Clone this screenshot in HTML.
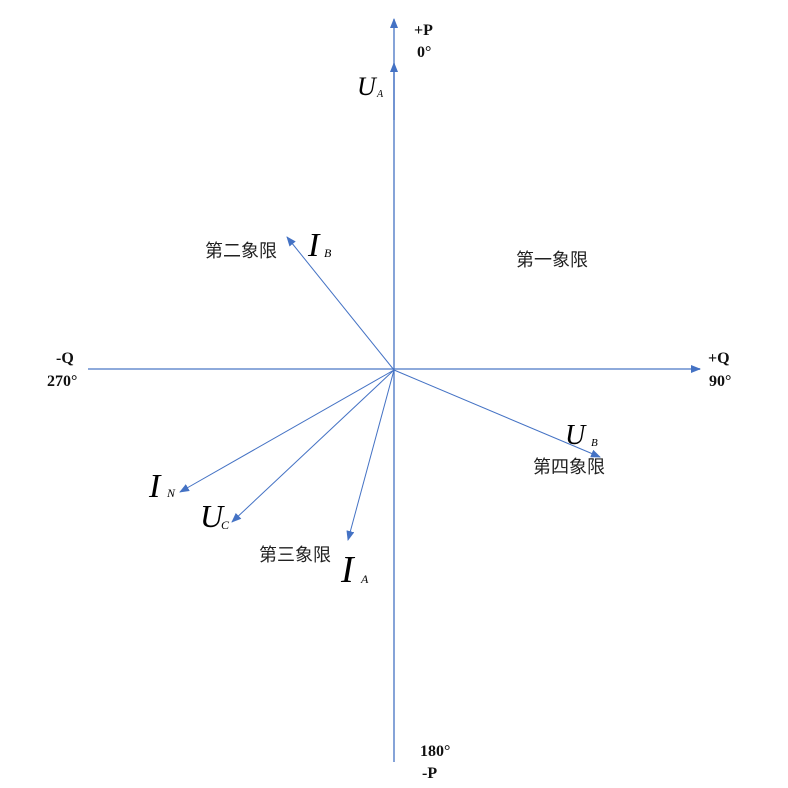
<!DOCTYPE html>
<html><head><meta charset="utf-8"><style>
body{margin:0;background:#fff}
svg{display:block}
.ax{font-family:"Liberation Serif",serif;font-weight:bold;font-size:16px;fill:#111}
.cn{font-family:"Liberation Sans","Noto Sans CJK SC",sans-serif;font-size:18px;fill:#222}
.v{font-family:"Liberation Serif",serif;font-style:italic;fill:#000}
</style></head><body>
<svg width="788" height="788" viewBox="0 0 788 788" xmlns="http://www.w3.org/2000/svg">
<defs>
<marker id="a" markerWidth="10" markerHeight="8" refX="9" refY="4" orient="auto" markerUnits="userSpaceOnUse">
<path d="M0,0 L10,4 L0,8 z" fill="#4472c4"/></marker>
</defs>
<g stroke="#4472c4" fill="none">
<line x1="88" y1="369" x2="700" y2="369" stroke="#8eaadb" stroke-width="2" marker-end="url(#a)"/>
<line x1="394" y1="762" x2="394" y2="19" stroke-width="1.3" marker-end="url(#a)"/>
<line x1="394" y1="120" x2="394" y2="63" stroke-width="1.3" marker-end="url(#a)"/>
<line x1="394" y1="370" x2="287" y2="237" marker-end="url(#a)"/>
<line x1="394" y1="370" x2="600" y2="457" marker-end="url(#a)"/>
<line x1="394" y1="370" x2="180" y2="492" marker-end="url(#a)"/>
<line x1="394" y1="370" x2="232" y2="522" marker-end="url(#a)"/>
<line x1="394" y1="370" x2="348" y2="540" marker-end="url(#a)"/>
</g>
<text class="ax" x="414" y="35">+P</text>
<text class="ax" x="417" y="57">0°</text>
<text class="ax" x="56" y="363">-Q</text>
<text class="ax" x="47" y="386">270°</text>
<text class="ax" x="708" y="363">+Q</text>
<text class="ax" x="709" y="386">90°</text>
<text class="ax" x="420" y="756">180°</text>
<text class="ax" x="422" y="778">-P</text>
<text class="cn" x="205" y="257">第二象限</text>
<text class="cn" x="516" y="266">第一象限</text>
<text class="cn" x="259" y="561">第三象限</text>
<text class="cn" x="533" y="473">第四象限</text>
<text class="v" x="357" y="95" font-size="26">U</text><text class="v" x="377" y="97" font-size="10">A</text>
<text class="v" x="308" y="256" font-size="34">I</text><text class="v" x="324" y="257" font-size="12">B</text>
<text class="v" x="565" y="444" font-size="28">U</text><text class="v" x="591" y="446" font-size="11">B</text>
<text class="v" x="149" y="497" font-size="34">I</text><text class="v" x="167" y="497" font-size="12">N</text>
<text class="v" x="200" y="527" font-size="32">U</text><text class="v" x="221" y="529" font-size="12">C</text>
<text class="v" x="341" y="582" font-size="38">I</text><text class="v" x="361" y="583" font-size="12">A</text>
</svg>
</body></html>
